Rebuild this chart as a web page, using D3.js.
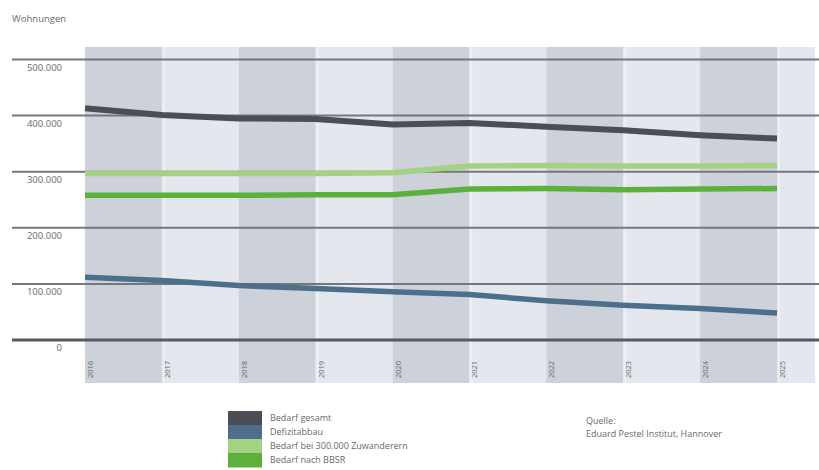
<!DOCTYPE html>
<html>
<head>
<meta charset="utf-8">
<script src="https://cdn.jsdelivr.net/npm/d3@7"></script>
<style>
  html, body { margin: 0; padding: 0; background: #fff; }
  svg { display: block; font-family: "Open Sans", "Noto Sans", sans-serif; }
</style>
</head>
<body>
<svg id="chart" width="819" height="470"></svg>
<script>
// Wohnungsbedarf 2016–2025
const years = ["2016", "2017", "2018", "2019", "2020", "2021", "2022", "2023", "2024", "2025"];
const bedarfGesamt = [413000, 401000, 395000, 394000, 384000, 387000, 380000, 374000, 365000, 359000];
const defizitabbau = [112000, 106000, 97000, 92000, 86000, 81000, 70000, 62000, 56000, 48000];
const bedarfZuwanderer = [297000, 297000, 297000, 297000, 298000, 310000, 311000, 310000, 310000, 311000];
const bedarfBBSR = [258000, 258000, 258000, 259000, 259000, 269000, 270000, 268000, 269000, 270000];
const yTicks = [0, 100000, 200000, 300000, 400000, 500000];
const seriesNames = ["Bedarf gesamt", "Defizitabbau", "Bedarf bei 300.000 Zuwanderern", "Bedarf nach BBSR"];
const seriesColors = ["#4b4e54", "#4d6f8b", "#a3d283", "#5cb13d"];
const sourceLines = ["Quelle:", "Eduard Pestel Institut, Hannover"];

const svg = d3.select("#chart");
const fmt = d3.format(",d");
const deFmt = v => fmt(v).replace(/,/g, ".");

const x = d3.scalePoint().domain(years).range([85, 777]);
const step = x.step();
const y = d3.scaleLinear().domain([0, 500000]).range([340, 59.5]);

const bandTop = 47, bandBottom = 383, plotRight = 815;

// alternating column bands
svg.append("g").selectAll("rect")
  .data(years)
  .join("rect")
  .attr("x", d => x(d))
  .attr("y", bandTop)
  .attr("width", d => Math.min(step, plotRight - x(d)))
  .attr("height", bandBottom - bandTop)
  .attr("fill", (d, i) => i % 2 === 0 ? "#ccd1da" : "#e4e7ed");

// thin light edges inside the light columns
svg.append("g").selectAll("line")
  .data(years.filter((d, i) => i % 2 === 1))
  .join("line")
  .attr("x1", d => x(d) + 2).attr("x2", d => x(d) + 2)
  .attr("y1", bandTop).attr("y2", bandBottom)
  .attr("stroke", "#eef0f4").attr("stroke-width", 2);

// horizontal gridlines
svg.append("g").selectAll("line")
  .data(yTicks)
  .join("line")
  .attr("x1", 12).attr("x2", 819)
  .attr("y1", d => y(d)).attr("y2", d => y(d))
  .attr("stroke", d => d === 0 ? "#555a60" : "#74777c")
  .attr("stroke-width", d => d === 0 ? 3 : 2);

// y tick labels below each gridline
svg.append("g").selectAll("text")
  .data(yTicks)
  .join("text")
  .attr("x", 62)
  .attr("y", d => y(d) + 11)
  .attr("text-anchor", "end")
  .attr("font-size", 9.5)
  .attr("fill", "#6a6a6a")
  .text(d => deFmt(d));

// unit label
svg.append("text")
  .attr("x", 12).attr("y", 22)
  .attr("font-size", 9.5)
  .attr("fill", "#6a6a6a")
  .text("Wohnungen");

// rotated year labels
svg.append("g").selectAll("text")
  .data(years)
  .join("text")
  .attr("transform", d => `translate(${x(d) + 8},378) rotate(-90)`)
  .attr("font-size", 7.5)
  .attr("fill", "#6a6a6a")
  .text(d => d);

// series lines
const series = [bedarfGesamt, defizitabbau, bedarfZuwanderer, bedarfBBSR];
const widths = [6, 5.5, 5.5, 5.5];
const line = d3.line().x((d, i) => x(years[i])).y(d => y(d));
svg.append("g").selectAll("path")
  .data(series)
  .join("path")
  .attr("d", d => line(d))
  .attr("fill", "none")
  .attr("stroke", (d, i) => seriesColors[i])
  .attr("stroke-width", (d, i) => widths[i])
  .attr("stroke-linejoin", "round");

// legend
const lg = svg.append("g").attr("transform", "translate(228,411)");
const rowH = 14;
lg.selectAll("rect")
  .data(seriesNames)
  .join("rect")
  .attr("x", 0).attr("y", (d, i) => i * rowH)
  .attr("width", 34).attr("height", rowH + 0.5)
  .attr("fill", (d, i) => seriesColors[i]);
lg.selectAll("text")
  .data(seriesNames)
  .join("text")
  .attr("x", 42).attr("y", (d, i) => i * rowH + 10)
  .attr("font-size", 9)
  .attr("fill", "#6a6a6a")
  .text(d => d);

// source note
svg.append("g").selectAll("text")
  .data(sourceLines)
  .join("text")
  .attr("x", 586).attr("y", (d, i) => 424 + i * 13)
  .attr("font-size", 9)
  .attr("fill", "#6a6a6a")
  .text(d => d);
</script>
</body>
</html>
